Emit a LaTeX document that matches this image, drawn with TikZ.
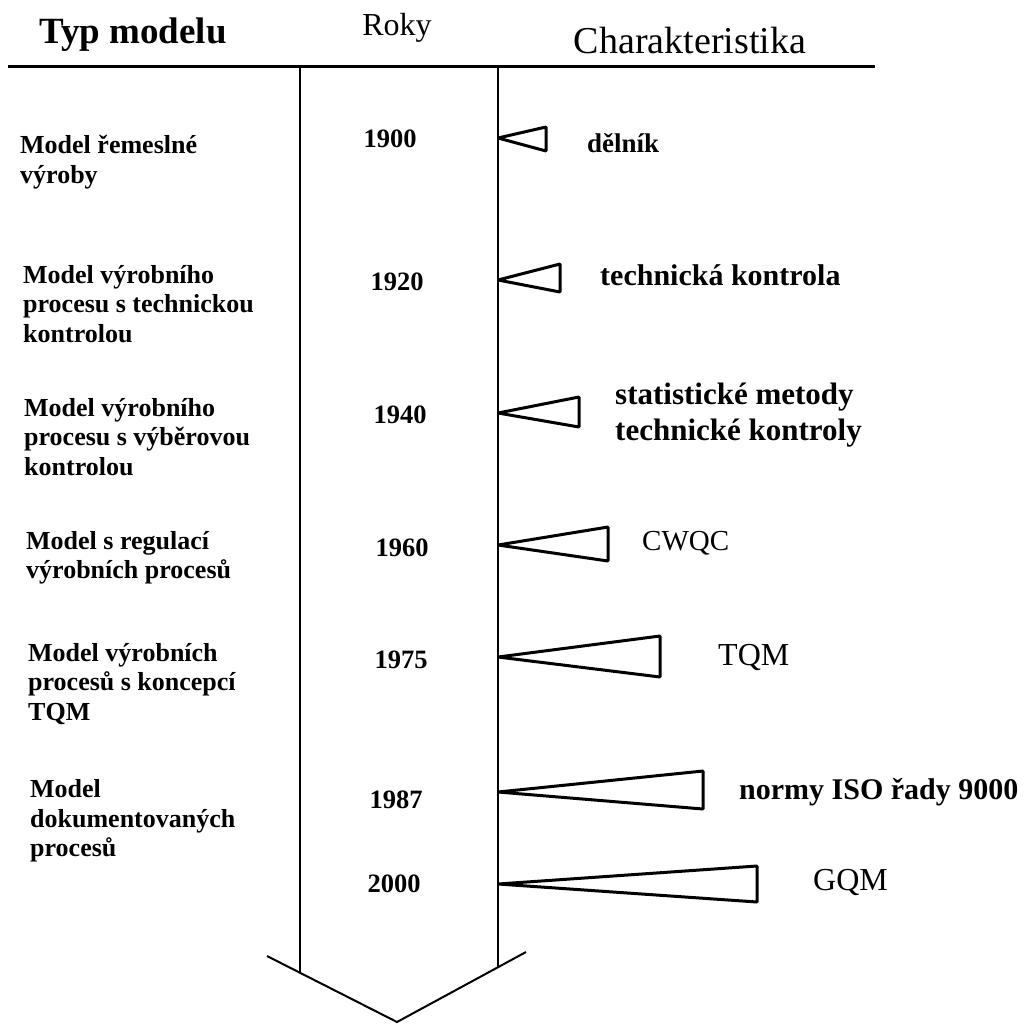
\documentclass[tikz,border=0pt]{standalone}
\usepackage{fontspec}
\setmainfont{Liberation Serif}
\usetikzlibrary{calc}

\tikzset{
 hdr/.style={inner sep=0, font=\fontsize{38}{42}\selectfont},
 model/.style={anchor=west, inner sep=0, align=left, font=\bfseries\fontsize{26}{29.5}\selectfont},
 year/.style={inner sep=0, font=\bfseries\fontsize{26.5}{30}\selectfont},
 chr/.style={anchor=west, inner sep=0, align=left, font=\bfseries\fontsize{30}{36}\selectfont},
 chrn/.style={anchor=west, inner sep=0, font=\fontsize{32}{36}\selectfont},
 flag/.style={black, line width=3pt, line join=bevel}
}

\begin{document}
\begin{tikzpicture}[x=1pt, y=-1pt]
\useasboundingbox (0,0) rectangle (1027,1023);
\coordinate (tl) at (8,66);
\coordinate (tr) at (875,66);
\coordinate (lt) at (300,66);
\coordinate (lb) at (300,973);
\coordinate (rt) at (498,66);
\coordinate (rb) at (498,968);
\coordinate (wl) at (267,956);
\coordinate (tip) at (397,1022);
\coordinate (wr) at (526,952);
\draw[line width=3pt] (tl)--(tr);
\draw[line width=2.5pt] (lt)--(lb);
\draw[line width=2.5pt] (rt)--(rb);
\draw[line width=2pt] (wl)--(tip)--(wr);

\node[hdr, font=\bfseries\fontsize{37}{42}\selectfont] (hmodel) at (133,35) {Typ modelu};
\node[hdr, font=\fontsize{32}{40}\selectfont] (hroky) at (397,28) {Roky};
\node[hdr] (hchar) at (690,40) {Charakteristika};

\foreach \yr/\ya/\bx/\bt/\bb/\yx/\yy in {1900/138/546/127/151/390/139, 1920/280/560/264/292/397/282,
 1940/413/579/397/427/400/415, 1960/545/608/527/561/402/548, 1975/657/660/636/677/401/660,
 1987/792/703/771/809/396/800, 2000/884/757/866/902/394/884} {
 \coordinate (f\yr) at (498,\ya);
 \draw[flag] (f\yr) -- (\bx,\bt) -- (\bx,\bb) -- cycle;
 \node[year] (y\yr) at (\yx,\yy) {\yr};
}

\node[model] (m1900) at (20,162) {Model řemeslné\\výroby};
\node[model] (m1920) at (23,304) {Model výrobního\\procesu s technickou\\kontrolou};
\node[model] (m1940) at (24,437) {Model výrobního\\procesu s výběrovou\\kontrolou};
\node[model] (m1960) at (26,558) {Model s regulací\\výrobních procesů};
\node[model] (m1975) at (28,684) {Model výrobních\\procesů s koncepcí\\TQM};
\node[model] (m1987) at (30,821) {Model\\dokumentovaných\\procesů};

\node[chr, font=\bfseries\fontsize{27}{36}\selectfont] (c1900) at (587,143) {dělník};
\node[chr] (c1920) at (600,275) {technická kontrola};
\node[chr, font=\bfseries\fontsize{31}{36}\selectfont] (c1940) at (615,415) {statistické metody\\technické kontroly};
\node[chrn, font=\fontsize{29}{36}\selectfont] (c1960) at (642,543) {CWQC};
\node[chrn] (c1975) at (718,657) {TQM};
\node[chr] (c1987) at (739,792) {normy ISO řady 9000};
\node[chrn] (c2000) at (813,882) {GQM};
\end{tikzpicture}
\end{document}
